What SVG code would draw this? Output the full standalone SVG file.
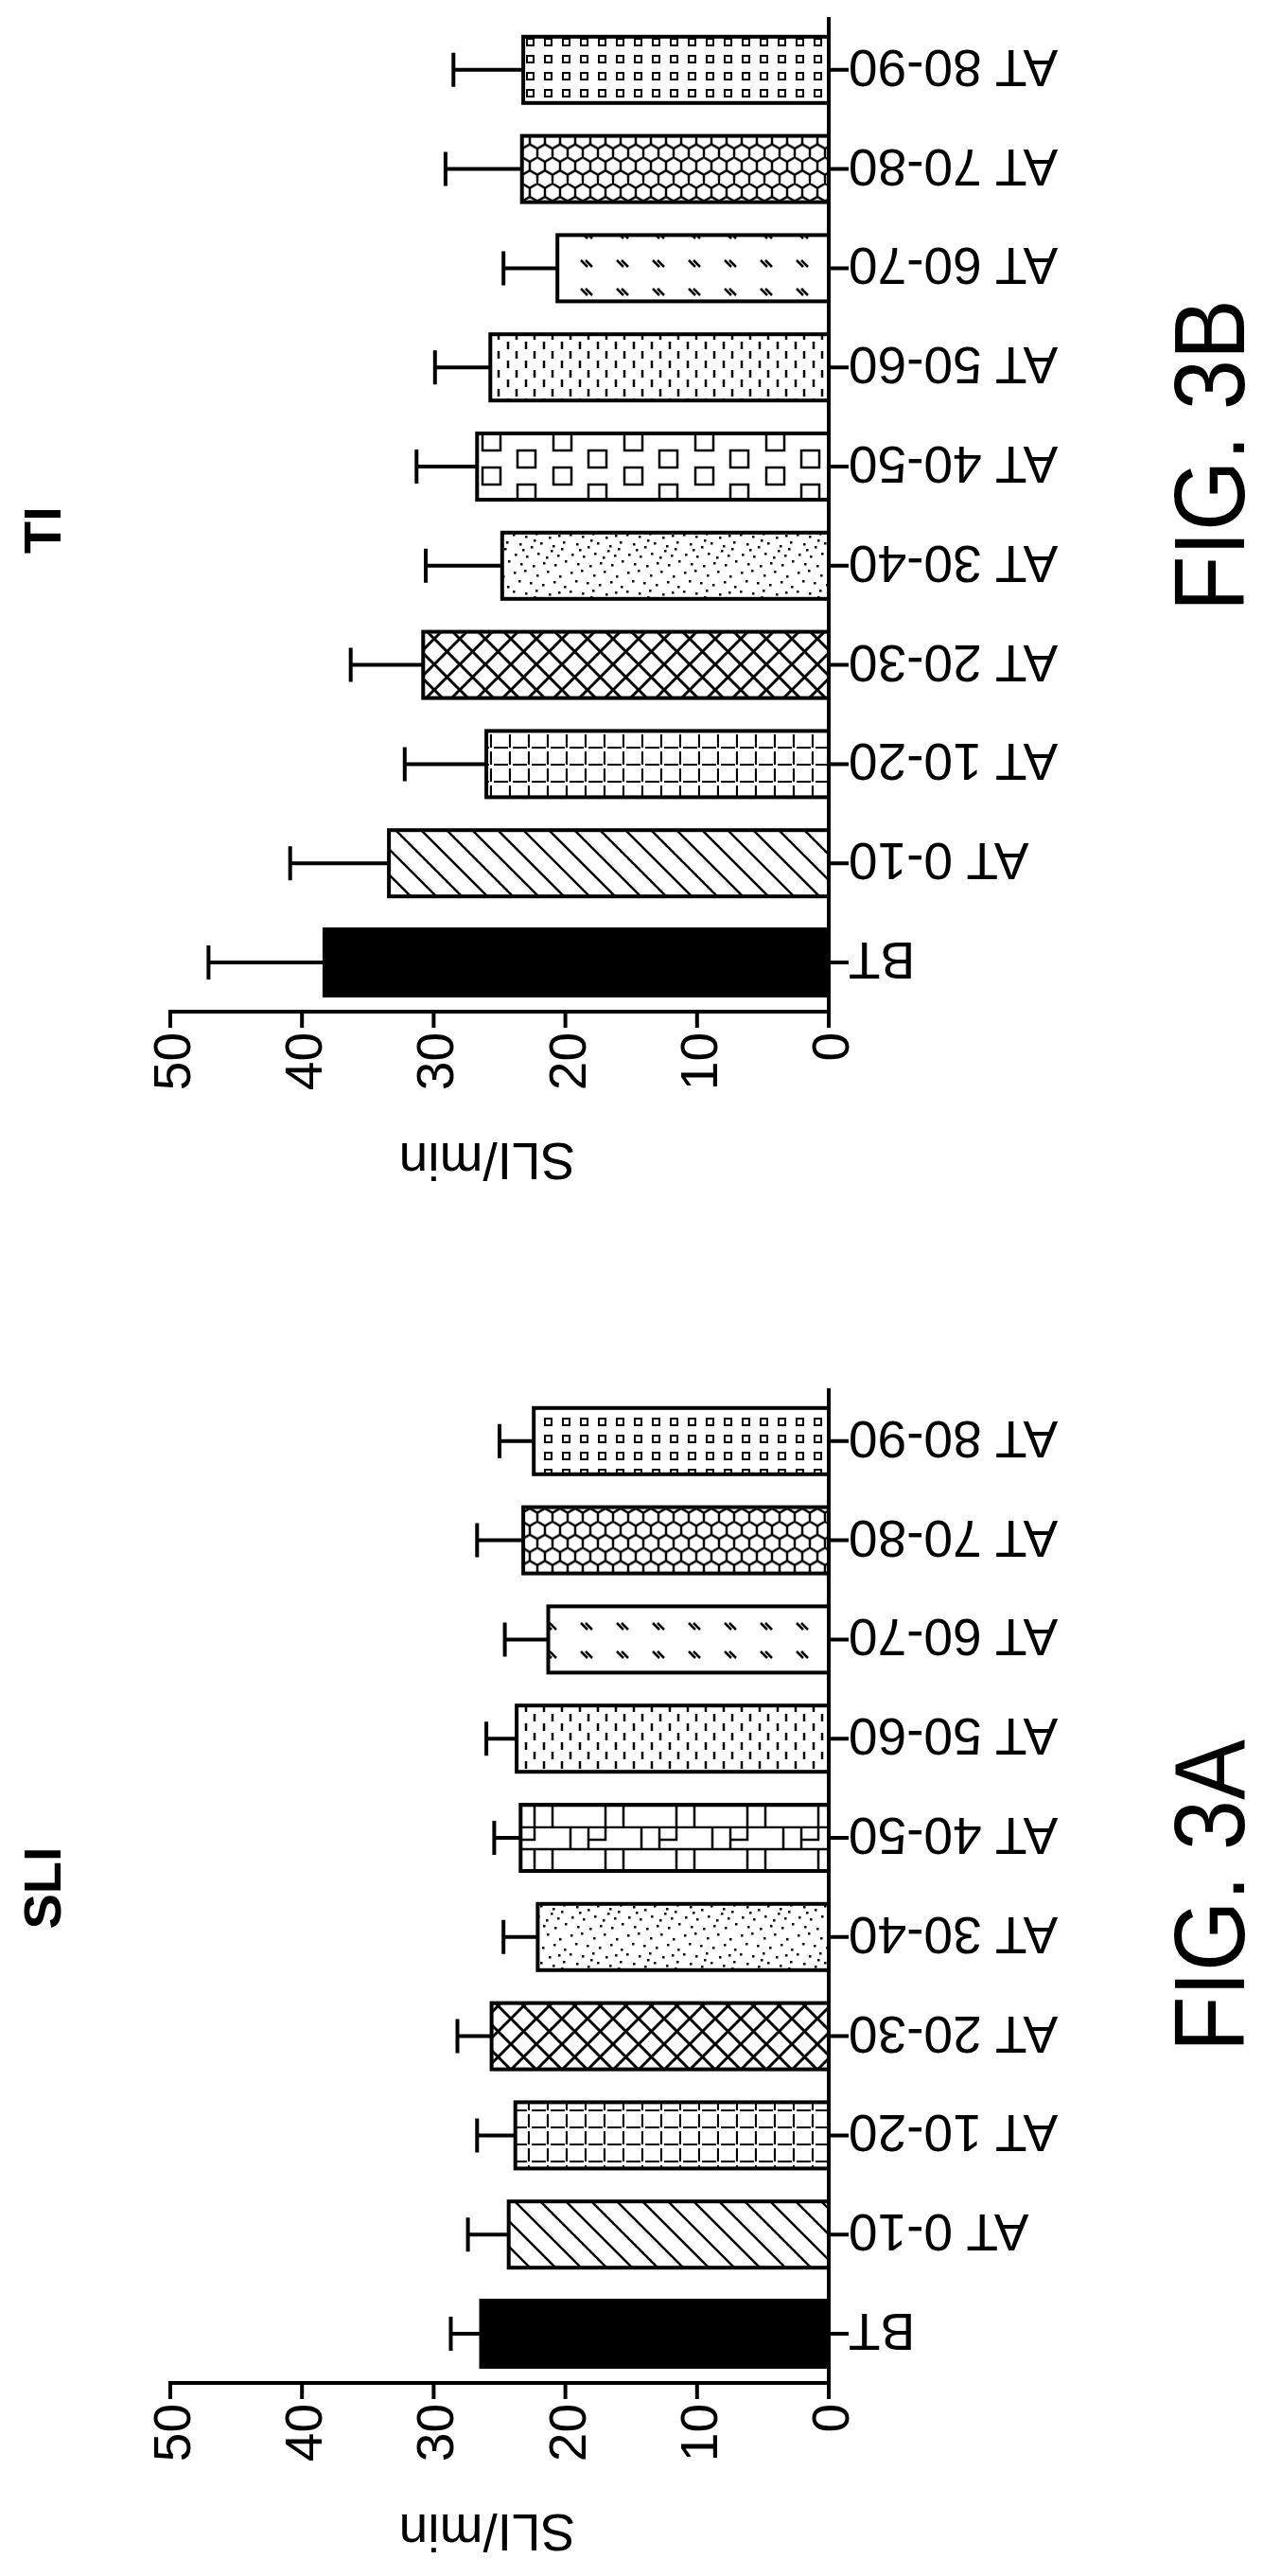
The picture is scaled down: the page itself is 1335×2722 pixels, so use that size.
<svg xmlns="http://www.w3.org/2000/svg" width="1335" height="2722" viewBox="0 0 1335 2722">
<style>
.ax{stroke:#000;stroke-width:4;fill:none;stroke-linecap:square}
.bar{stroke:#000;stroke-width:4}
.err{stroke:#000;stroke-width:4;fill:none}
.t{font-family:"Liberation Sans",Arial,sans-serif;fill:#000}
.lab{font-size:55px}
.num{font-size:55px}
.ttl{font-size:56px;font-weight:bold}
.fig{font-size:106px}
</style>
<defs>
<pattern id="p0" width="27" height="27" patternUnits="userSpaceOnUse"><rect width="27" height="27" fill="#fff"/><path d="M-5,-5 L32,32 M-5,22 L5,32 M22,-5 L32,5" stroke="#000" stroke-width="2.5"/></pattern>
<pattern id="p1" width="20" height="18" patternUnits="userSpaceOnUse"><rect width="20" height="18" fill="#fff"/><path d="M2,16 H17 M19,2 V16" stroke="#000" stroke-width="2.2"/></pattern>
<pattern id="p2" width="27" height="27" patternUnits="userSpaceOnUse"><rect width="27" height="27" fill="#fff"/><path d="M-5,-5 L32,32 M32,-5 L-5,32" stroke="#000" stroke-width="3"/></pattern>
<pattern id="p3" width="60" height="60" patternUnits="userSpaceOnUse"><rect width="60" height="60" fill="#fff"/><g fill="#000"><rect x="3" y="4" width="2.5" height="2.5"/><rect x="14" y="2" width="2.5" height="2.5"/><rect x="27" y="7" width="2.5" height="2.5"/><rect x="38" y="3" width="2.5" height="2.5"/><rect x="51" y="8" width="2.5" height="2.5"/><rect x="8" y="13" width="2.5" height="2.5"/><rect x="20" y="15" width="2.5" height="2.5"/><rect x="33" y="17" width="2.5" height="2.5"/><rect x="45" y="14" width="2.5" height="2.5"/><rect x="56" y="19" width="2.5" height="2.5"/><rect x="2" y="24" width="2.5" height="2.5"/><rect x="15" y="26" width="2.5" height="2.5"/><rect x="26" y="23" width="2.5" height="2.5"/><rect x="40" y="27" width="2.5" height="2.5"/><rect x="50" y="25" width="2.5" height="2.5"/><rect x="9" y="34" width="2.5" height="2.5"/><rect x="21" y="37" width="2.5" height="2.5"/><rect x="31" y="33" width="2.5" height="2.5"/><rect x="44" y="36" width="2.5" height="2.5"/><rect x="55" y="32" width="2.5" height="2.5"/><rect x="4" y="45" width="2.5" height="2.5"/><rect x="16" y="47" width="2.5" height="2.5"/><rect x="28" y="44" width="2.5" height="2.5"/><rect x="37" y="48" width="2.5" height="2.5"/><rect x="49" y="46" width="2.5" height="2.5"/><rect x="10" y="55" width="2.5" height="2.5"/><rect x="23" y="57" width="2.5" height="2.5"/><rect x="34" y="54" width="2.5" height="2.5"/><rect x="46" y="56" width="2.5" height="2.5"/><rect x="57" y="52" width="2.5" height="2.5"/><rect x="12" y="40" width="2.5" height="2.5"/><rect x="42" y="41" width="2.5" height="2.5"/><rect x="24" y="30" width="2.5" height="2.5"/><rect x="53" y="39" width="2.5" height="2.5"/></g></pattern>
<pattern id="p4a" width="75" height="46" patternUnits="userSpaceOnUse"><rect width="75" height="46" fill="#fff"/><path d="M0,22 H75 M0,45 H75 M3,0 V22 M22,0 V22 M40,23 V45 M59,23 V45 M22,0 V12 H40 V0" stroke="#000" stroke-width="2.5" fill="none"/></pattern>
<pattern id="p4b" width="75" height="36" patternUnits="userSpaceOnUse"><rect width="75" height="36" fill="#fff"/><rect x="22" y="8" width="19" height="18" fill="none" stroke="#000" stroke-width="2.5"/><rect x="60" y="26" width="19" height="18" fill="none" stroke="#000" stroke-width="2.5"/><rect x="-15" y="26" width="19" height="18" fill="none" stroke="#000" stroke-width="2.5"/><rect x="60" y="-10" width="19" height="18" fill="none" stroke="#000" stroke-width="2.5"/><rect x="-15" y="-10" width="19" height="18" fill="none" stroke="#000" stroke-width="2.5"/></pattern>
<pattern id="p5" width="19" height="20" patternUnits="userSpaceOnUse"><rect width="19" height="20" fill="#fff"/><path d="M5,1 V9 M14,11 V19" stroke="#000" stroke-width="2.5"/></pattern>
<pattern id="p6" width="38" height="30" patternUnits="userSpaceOnUse"><rect width="38" height="30" fill="#fff"/><path d="M6,5 L13,12 M11,5 L18,12" stroke="#000" stroke-width="2.5"/></pattern>
<pattern id="p7" width="16" height="27.72" patternUnits="userSpaceOnUse"><rect width="16" height="27.72" fill="#fff"/><path d="M8,0 L16,4.62 L16,13.86 L8,18.48 L0,13.86 L0,4.62 Z M8,18.48 L8,27.72" stroke="#000" stroke-width="2.5" fill="none"/></pattern>
<pattern id="p8" width="19" height="18" patternUnits="userSpaceOnUse"><rect width="19" height="18" fill="#fff"/><rect x="6" y="5" width="7" height="7" fill="none" stroke="#000" stroke-width="2"/></pattern>
</defs>

<g id="chartA">
<g id="barsA">
<rect class="bar" x="508.5" y="2431" width="367.5" height="70" fill="#000"/>
<rect class="bar" x="537.7" y="2326.2" width="338.3" height="70" fill="url(#p0)"/>
<rect class="bar" x="544.7" y="2221.4" width="331.3" height="70" fill="url(#p1)"/>
<rect class="bar" x="519.6" y="2116.6" width="356.4" height="70" fill="url(#p2)"/>
<rect class="bar" x="568.4" y="2011.8" width="307.6" height="70" fill="url(#p3)"/>
<rect class="bar" x="550.3" y="1907" width="325.7" height="70" fill="url(#p4a)"/>
<rect class="bar" x="546.1" y="1802.2" width="329.9" height="70" fill="url(#p5)"/>
<rect class="bar" x="579.5" y="1697.4" width="296.5" height="70" fill="url(#p6)"/>
<rect class="bar" x="553.1" y="1592.6" width="322.9" height="70" fill="url(#p7)"/>
<rect class="bar" x="564.2" y="1487.8" width="311.8" height="70" fill="url(#p8)"/>
</g>
<g id="errA" class="err">
<path d="M508.5,2466 H476.5 M476.5,2448 V2484"/>
<path d="M537.7,2361.2 H494.6 M494.6,2343.2 V2379.2"/>
<path d="M544.7,2256.4 H504.3 M504.3,2238.4 V2274.4"/>
<path d="M519.6,2151.6 H483.5 M483.5,2133.6 V2169.6"/>
<path d="M568.4,2046.8 H532.2 M532.2,2028.8 V2064.8"/>
<path d="M550.3,1942 H522.4 M522.4,1924 V1960"/>
<path d="M546.1,1837.2 H514.1 M514.1,1819.2 V1855.2"/>
<path d="M579.5,1732.4 H533.6 M533.6,1714.4 V1750.4"/>
<path d="M553.1,1627.6 H504.3 M504.3,1609.6 V1645.6"/>
<path d="M564.2,1522.8 H528 M528,1504.8 V1540.8"/>
</g>
<g id="axesA" class="ax">
<path d="M876,1469 V2533 M180,2518 H876 M180,2518 V2533 M319.2,2518 V2533 M458.4,2518 V2533 M597.6,2518 V2533 M736.8,2518 V2533"/>
<path d="M876,2466 H895 M876,2361.2 H895 M876,2256.4 H895 M876,2151.6 H895 M876,2046.8 H895 M876,1942 H895 M876,1837.2 H895 M876,1732.4 H895 M876,1627.6 H895 M876,1522.8 H895"/>
</g>
<g id="ticklabelsA" class="t num" text-anchor="end">
<text transform="translate(897,2540) rotate(-90)">0</text>
<text transform="translate(758,2540) rotate(-90)">10</text>
<text transform="translate(619,2540) rotate(-90)">20</text>
<text transform="translate(479,2540) rotate(-90)">30</text>
<text transform="translate(340,2540) rotate(-90)">40</text>
<text transform="translate(201,2540) rotate(-90)">50</text>
</g>
<g id="catlabelsA" class="t lab" text-anchor="end">
<text transform="translate(897,2445) rotate(180)">BT</text>
<text transform="translate(897,2340.2) rotate(180)">AT 0-10</text>
<text transform="translate(897,2235.4) rotate(180)">AT 10-20</text>
<text transform="translate(897,2130.6) rotate(180)">AT 20-30</text>
<text transform="translate(897,2025.8) rotate(180)">AT 30-40</text>
<text transform="translate(897,1921) rotate(180)">AT 40-50</text>
<text transform="translate(897,1816.2) rotate(180)">AT 50-60</text>
<text transform="translate(897,1711.4) rotate(180)">AT 60-70</text>
<text transform="translate(897,1606.6) rotate(180)">AT 70-80</text>
<text transform="translate(897,1501.8) rotate(180)">AT 80-90</text>
</g>
<text class="t lab" text-anchor="middle" transform="translate(515,2657) rotate(180)">SLI/min</text>
<text class="t ttl" text-anchor="middle" transform="translate(64,1995) rotate(-90)">SLI</text>
<text class="t fig" text-anchor="middle" textLength="330" lengthAdjust="spacingAndGlyphs" transform="translate(1315,2003) rotate(-90)">FIG. 3A</text>
</g>

<g id="chartB">
<g id="barsB">
<rect class="bar" x="342.9" y="982" width="533.1" height="70" fill="#000"/>
<rect class="bar" x="411.1" y="877.2" width="464.9" height="70" fill="url(#p0)"/>
<rect class="bar" x="514.1" y="772.4" width="361.9" height="70" fill="url(#p1)"/>
<rect class="bar" x="447.3" y="667.6" width="428.7" height="70" fill="url(#p2)"/>
<rect class="bar" x="530.8" y="562.8" width="345.2" height="70" fill="url(#p3)"/>
<rect class="bar" x="504.3" y="458" width="371.7" height="70" fill="url(#p4b)"/>
<rect class="bar" x="518.3" y="353.2" width="357.7" height="70" fill="url(#p5)"/>
<rect class="bar" x="589.2" y="248.4" width="286.8" height="70" fill="url(#p6)"/>
<rect class="bar" x="551.7" y="143.6" width="324.3" height="70" fill="url(#p7)"/>
<rect class="bar" x="553.1" y="38.8" width="322.9" height="70" fill="url(#p8)"/>
</g>
<g id="errB" class="err">
<path d="M342.9,1017 H220.4 M220.4,999 V1035"/>
<path d="M411.1,912.2 H306.7 M306.7,894.2 V930.2"/>
<path d="M514.1,807.4 H427.8 M427.8,789.4 V825.4"/>
<path d="M447.3,702.6 H370.7 M370.7,684.6 V720.6"/>
<path d="M530.8,597.8 H450 M450,579.8 V615.8"/>
<path d="M504.3,493 H440.3 M440.3,475 V511"/>
<path d="M518.3,388.2 H459.8 M459.8,370.2 V406.2"/>
<path d="M589.2,283.4 H532.2 M532.2,265.4 V301.4"/>
<path d="M551.7,178.6 H470.9 M470.9,160.6 V196.6"/>
<path d="M553.1,73.8 H479.3 M479.3,55.8 V91.8"/>
</g>
<g id="axesB" class="ax">
<path d="M876,20 V1084 M180,1069 H876 M180,1069 V1084 M319.2,1069 V1084 M458.4,1069 V1084 M597.6,1069 V1084 M736.8,1069 V1084"/>
<path d="M876,1017 H895 M876,912.2 H895 M876,807.4 H895 M876,702.6 H895 M876,597.8 H895 M876,493 H895 M876,388.2 H895 M876,283.4 H895 M876,178.6 H895 M876,73.8 H895"/>
</g>
<g id="ticklabelsB" class="t num" text-anchor="end">
<text transform="translate(897,1091) rotate(-90)">0</text>
<text transform="translate(758,1091) rotate(-90)">10</text>
<text transform="translate(619,1091) rotate(-90)">20</text>
<text transform="translate(479,1091) rotate(-90)">30</text>
<text transform="translate(340,1091) rotate(-90)">40</text>
<text transform="translate(201,1091) rotate(-90)">50</text>
</g>
<g id="catlabelsB" class="t lab" text-anchor="end">
<text transform="translate(897,996) rotate(180)">BT</text>
<text transform="translate(897,891.2) rotate(180)">AT 0-10</text>
<text transform="translate(897,786.4) rotate(180)">AT 10-20</text>
<text transform="translate(897,681.6) rotate(180)">AT 20-30</text>
<text transform="translate(897,576.8) rotate(180)">AT 30-40</text>
<text transform="translate(897,472) rotate(180)">AT 40-50</text>
<text transform="translate(897,367.2) rotate(180)">AT 50-60</text>
<text transform="translate(897,262.4) rotate(180)">AT 60-70</text>
<text transform="translate(897,157.6) rotate(180)">AT 70-80</text>
<text transform="translate(897,52.8) rotate(180)">AT 80-90</text>
</g>
<text class="t lab" text-anchor="middle" transform="translate(515,1208) rotate(180)">SLI/min</text>
<text class="t ttl" text-anchor="middle" transform="translate(64,560) rotate(-90)">TI</text>
<text class="t fig" text-anchor="middle" textLength="330" lengthAdjust="spacingAndGlyphs" transform="translate(1315,481) rotate(-90)">FIG. 3B</text>
</g>
</svg>
